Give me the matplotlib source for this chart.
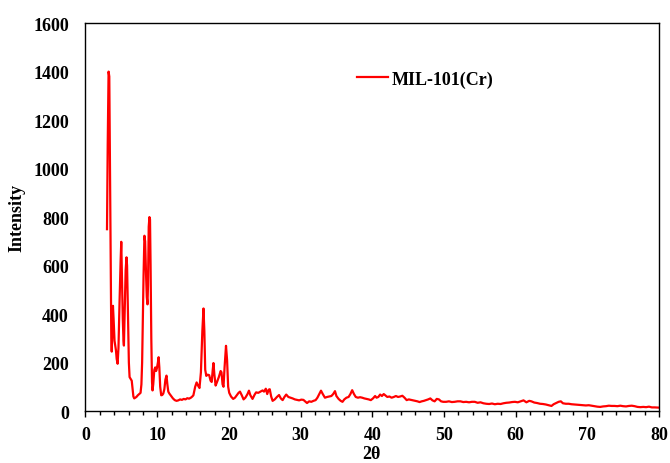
import numpy as np
import matplotlib
matplotlib.use('Agg')
import matplotlib.pyplot as plt

plt.rcParams['font.family'] = ['Liberation Serif', 'DejaVu Serif']
plt.rcParams['font.weight'] = 'bold'

# XRD pattern of MIL-101(Cr)
two_theta = [3.0, 3.1, 3.22, 3.32, 3.45, 3.6, 3.66, 3.75, 3.83, 3.92, 4.05, 4.15, 4.25, 4.35, 4.48,
             4.6, 4.75, 4.9, 4.99, 5.08, 5.2, 5.3, 5.36, 5.48, 5.6, 5.72, 5.8, 5.92, 6.05, 6.15,
             6.25, 6.35, 6.45, 6.55, 6.68, 6.8, 6.95, 7.1, 7.3, 7.5, 7.68, 7.8, 7.9, 8.0, 8.1,
             8.22, 8.32, 8.45, 8.55, 8.65, 8.72, 8.82, 8.92, 9.0, 9.08, 9.18, 9.28, 9.35, 9.45, 9.6,
             9.73, 9.85, 9.95, 10.1, 10.2, 10.3, 10.42, 10.56, 10.7, 10.85, 11.0, 11.15, 11.3, 11.42, 11.55,
             11.7, 11.85, 12.0, 12.2, 12.45, 12.7, 12.95, 13.2, 13.45, 13.7, 13.95, 14.2, 14.45, 14.7, 14.9,
             15.05, 15.3, 15.5, 15.7, 15.9, 16.1, 16.3, 16.46, 16.58, 16.7, 16.85, 17.05, 17.25, 17.45, 17.6,
             17.75, 17.85, 17.98, 18.15, 18.35, 18.6, 18.85, 18.97, 19.12, 19.25, 19.4, 19.6, 19.75, 19.9, 20.05,
             20.3, 20.6, 20.85, 21.1, 21.35, 21.55, 21.8, 22.05, 22.3, 22.6, 22.8, 23.0, 23.3, 23.6, 23.8,
             24.1, 24.4, 24.7, 24.9, 25.15, 25.35, 25.55, 25.7, 25.9, 26.1, 26.4, 26.7, 27.0, 27.25, 27.5,
             27.75, 28.0, 28.3, 28.6, 28.9, 29.2, 29.5, 29.8, 30.1, 30.4, 30.7, 30.9, 31.2, 31.5, 31.8,
             32.1, 32.35, 32.6, 32.85, 33.1, 33.4, 33.7, 34.0, 34.3, 34.55, 34.8, 35.0, 35.3, 35.6, 35.85,
             36.1, 36.4, 36.7, 36.95, 37.2, 37.45, 37.7, 38.0, 38.3, 38.6, 38.9, 39.2, 39.5, 39.8, 40.1,
             40.4, 40.6, 40.85, 41.1, 41.35, 41.6, 41.85, 42.1, 42.4, 42.7, 43.0, 43.3, 43.6, 43.9, 44.2,
             44.5, 44.8, 45.1, 45.4, 45.7, 46.0, 46.3, 46.6, 46.9, 47.2, 47.5, 47.8, 48.1, 48.4, 48.7,
             49.0, 49.3, 49.6, 49.9, 50.3, 50.7, 51.1, 51.5, 51.9, 52.3, 52.7, 53.1, 53.5, 53.9, 54.3,
             54.7, 55.1, 55.5, 55.9, 56.3, 56.7, 57.1, 57.5, 57.9, 58.3, 58.7, 59.1, 59.5, 59.9, 60.3,
             60.7, 61.1, 61.5, 61.9, 62.2, 62.6, 63.0, 63.4, 63.8, 64.2, 64.6, 65.0, 65.3, 65.7, 66.0,
             66.3, 66.6, 67.0, 67.4, 67.8, 68.2, 68.6, 69.0, 69.4, 69.8, 70.2, 70.6, 71.0, 71.4, 71.8,
             72.2, 72.6, 73.0, 73.4, 73.8, 74.2, 74.6, 75.0, 75.4, 75.8, 76.2, 76.6, 77.0, 77.4, 77.8,
             78.2, 78.6, 79.0, 79.4, 80.0]
intensity = [750, 1100, 1400, 1380, 900, 300, 245, 330, 434, 380, 290, 270, 250, 215, 195,
             260, 450, 620, 698, 560, 380, 290, 270, 420, 580, 634, 600, 400, 200, 140,
             135, 130, 125, 95, 60, 52, 55, 58, 65, 70, 75, 110, 200, 380, 560,
             723, 700, 560, 470, 440, 520, 760, 800, 790, 600, 300, 120, 85, 110, 170,
             180, 165, 175, 200, 222, 180, 100, 65, 66, 72, 90, 130, 146, 110, 80,
             72, 66, 60, 52, 45, 42, 44, 48, 46, 50, 48, 53, 51, 55, 60,
             65, 100, 118, 105, 95, 160, 330, 423, 330, 170, 145, 150, 148, 125, 120,
             170, 198, 150, 105, 120, 140, 165, 160, 110, 100, 180, 269, 210, 100, 75,
             60, 50, 55, 65, 75, 80, 65, 48, 55, 70, 84, 65, 50, 68, 77,
             75, 80, 85, 80, 92, 70, 88, 90, 60, 42, 48, 58, 66, 52, 45,
             58, 68, 58, 55, 52, 48, 46, 44, 47, 46, 38, 33, 40, 38, 42,
             45, 55, 70, 84, 70, 55, 58, 60, 62, 70, 82, 62, 50, 42, 38,
             48, 55, 58, 70, 86, 70, 58, 55, 57, 55, 52, 50, 48, 45, 52,
             62, 55, 58, 68, 62, 70, 64, 58, 60, 55, 58, 62, 58, 60, 63,
             55, 45, 48, 46, 44, 42, 40, 37, 40, 42, 45, 48, 52, 44, 40,
             50, 48, 40, 38, 38, 40, 37, 38, 40, 40, 37, 38, 36, 38, 38,
             34, 36, 32, 30, 29, 31, 28, 30, 29, 32, 34, 35, 37, 38, 36,
             40, 44, 36, 42, 40, 35, 33, 30, 29, 27, 24, 21, 28, 34, 38,
             40, 32, 30, 30, 28, 27, 26, 25, 24, 23, 24, 22, 20, 18, 17,
             19, 20, 22, 21, 21, 20, 22, 20, 19, 21, 22, 20, 17, 16, 17,
             16, 18, 15, 15, 14]
series_name = 'MIL-101(Cr)'

fig = plt.figure(figsize=(6.7, 4.64), dpi=100)
ax = fig.add_axes([0.1276, 0.112, 0.856, 0.836])

ax.plot(two_theta, intensity, color='red', lw=1.6, label=series_name)

ax.set_xlim(0, 80)
ax.set_ylim(0, 1600)
ax.set_xticks(np.arange(0, 81, 10))
ax.set_xticks(np.arange(0, 81, 2), minor=True)
ax.set_yticks(np.arange(0, 1601, 200))

ax.tick_params(axis='x', which='major', direction='out', length=4.5, width=1, labelsize=13, pad=6)
ax.tick_params(axis='x', which='minor', direction='out', length=3, width=1)
ax.tick_params(axis='y', length=0, labelsize=13, pad=12)
for s in ax.spines.values():
    s.set_linewidth(1)

# the reference clips "2θ" at the bottom edge, keep it just inside here
ax.set_xlabel('2θ', fontsize=13, fontweight='bold', va='bottom')
ax.set_ylabel('Intensity', fontsize=13, fontweight='bold')
ax.xaxis.set_label_coords(0.499, -0.132)
ax.yaxis.set_label_coords(-0.104, 0.5)

ax.legend(loc='center left', bbox_to_anchor=(0.473, 0.856), frameon=False,
          fontsize=13, handlelength=1.75, handletextpad=0.2,
          borderpad=0, borderaxespad=0)

plt.savefig('out.png', dpi=100)
